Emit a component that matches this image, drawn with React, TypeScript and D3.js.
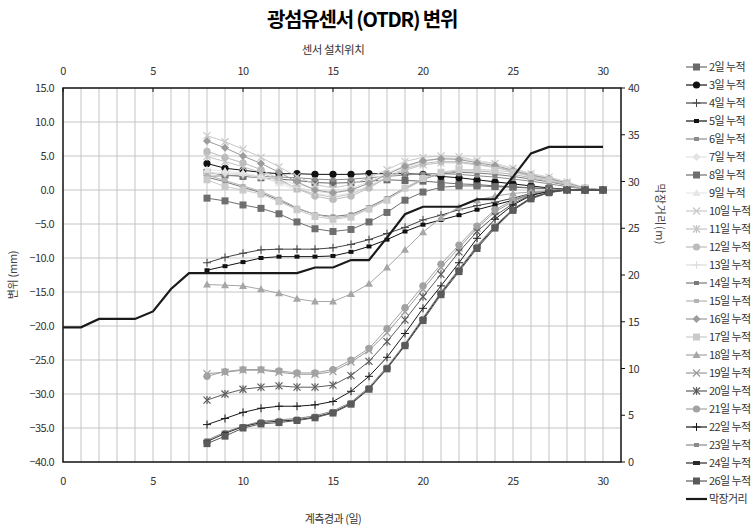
import React from "react";
import * as d3 from "d3";

const days = [8, 9, 10, 11, 12, 13, 14, 15, 16, 17, 18, 19, 20, 21, 22, 23, 24, 25, 26, 27, 28, 29, 30];

const d2 = [2.6, 2.2, 2.0, 1.8, 1.6, 1.4, 1.1, 1.0, 1.1, 1.3, 1.5, 1.4, 1.3, 1.1, 0.9, 0.8, 0.6, 0.5, 0.3, 0.2, 0.1, 0.0, 0];
const d3v = [3.9, 3.2, 2.9, 2.6, 2.4, 2.4, 2.3, 2.3, 2.3, 2.4, 2.4, 2.4, 2.3, 2.0, 1.8, 1.5, 1.2, 0.9, 0.6, 0.3, 0.1, 0.0, 0];
const d4 = [-10.7, -9.9, -9.3, -8.8, -8.7, -8.7, -8.7, -8.5, -8.0, -7.3, -6.4, -5.5, -4.4, -3.7, -2.9, -2.3, -1.8, -1.2, -0.5, -0.1, 0, 0, 0];
const d5 = [-11.8, -11.2, -10.6, -10.0, -9.8, -9.8, -9.8, -9.7, -9.1, -8.3, -7.3, -6.1, -5.1, -4.4, -3.7, -2.9, -2.2, -1.5, -0.6, -0.15, 0, 0, 0];
const d6 = [2.0, 2.1, 2.1, 2.0, 1.9, 1.8, 1.6, 1.5, 1.6, 1.8, 2.0, 2.2, 2.4, 2.4, 2.3, 2.1, 1.9, 1.6, 1.3, 0.9, 0.5, 0.1, 0];
const d7 = [2.3, 2.5, 2.4, 2.0, 1.5, 0.8, 0.2, -0.2, 0.3, 1.2, 2.5, 3.6, 4.3, 4.6, 4.6, 4.2, 3.8, 3.1, 2.3, 1.7, 1.0, 0.3, 0];
const d8 = [-1.2, -1.6, -2.2, -2.7, -3.5, -4.7, -5.7, -6.1, -5.8, -4.7, -3.3, -1.5, -0.3, 0.4, 0.6, 0.6, 0.5, 0.4, 0.3, 0.2, 0.1, 0.0, 0];
const d9 = [3.0, 2.8, 2.5, 2.0, 1.0, 0.0, -0.5, -0.9, -0.4, 0.6, 2.0, 3.3, 4.2, 4.6, 4.6, 4.2, 3.8, 3.1, 2.3, 1.8, 1.1, 0.3, 0];
const d10 = [8.0, 7.1, 6.0, 4.8, 3.4, 2.0, 0.8, 0.3, 0.8, 1.8, 3.0, 4.2, 4.8, 5.0, 4.9, 4.3, 3.9, 3.2, 2.4, 1.9, 1.2, 0.3, 0];
const d11 = [4.9, 4.2, 3.4, 2.6, 1.4, 0.2, -0.6, -1.1, -0.6, 0.5, 1.8, 2.9, 3.7, 4.0, 4.0, 3.7, 3.3, 2.7, 2.0, 1.5, 0.9, 0.2, 0];
const d12 = [5.7, 4.8, 4.0, 3.0, 1.6, 0.2, -0.9, -1.4, -0.9, 0.3, 1.8, 3.1, 3.9, 4.2, 4.2, 3.8, 3.4, 2.8, 2.1, 1.6, 1.0, 0.3, 0];
const d13 = [2.6, 2.4, 2.2, 1.8, 1.2, 0.4, -0.2, -0.5, 0.0, 1.0, 2.3, 3.5, 4.3, 4.7, 4.7, 4.3, 3.9, 3.2, 2.4, 1.8, 1.1, 0.3, 0];
const d14 = [1.9, 1.2, 0.4, -0.4, -1.5, -2.7, -3.6, -3.9, -3.6, -2.5, -1.2, 0.3, 1.6, 2.4, 2.6, 2.5, 2.3, 2.0, 1.6, 1.2, 0.7, 0.2, 0];
const d15 = [2.2, 1.4, 0.6, -0.2, -1.3, -2.6, -3.6, -4.1, -3.8, -2.7, -1.4, 0.1, 1.5, 2.5, 2.8, 2.8, 2.6, 2.3, 1.8, 1.3, 0.8, 0.2, 0];
const d16 = [7.2, 6.2, 5.0, 3.9, 2.6, 1.2, 0.0, -0.4, 0.0, 1.0, 2.3, 3.5, 4.3, 4.6, 4.5, 4.0, 3.6, 2.9, 2.2, 1.7, 1.0, 0.3, 0];
const d17 = [1.5, 0.5, 0.0, -0.6, -1.7, -2.9, -3.9, -4.3, -4.0, -2.8, -1.5, 0.3, 1.7, 2.6, 3.0, 3.0, 2.9, 2.6, 2.0, 1.5, 0.9, 0.2, 0];
const d18 = [-13.9, -14.0, -14.1, -14.6, -15.2, -16.0, -16.4, -16.4, -15.3, -13.8, -11.4, -8.8, -6.2, -4.1, -2.5, -1.5, -0.9, -0.5, -0.3, -0.1, 0, 0, 0];
const d19 = [-27.0, -26.8, -26.5, -26.5, -26.8, -27.1, -27.1, -26.7, -25.3, -23.6, -21.0, -17.9, -14.6, -11.4, -8.5, -5.6, -3.2, -1.7, -0.6, -0.15, 0, 0, 0];
const d20 = [-30.9, -30.0, -29.3, -29.0, -28.8, -29.0, -29.0, -28.7, -27.3, -25.2, -22.3, -19.1, -15.7, -12.4, -9.1, -6.1, -3.8, -2.0, -0.7, -0.2, 0, 0, 0];
const d21 = [-27.4, -26.7, -26.4, -26.4, -26.6, -26.9, -26.9, -26.4, -25.0, -23.3, -20.4, -17.3, -14.1, -10.9, -8.1, -5.3, -2.9, -1.5, -0.5, -0.15, 0, 0, 0];
const d22 = [-34.5, -33.6, -32.7, -32.1, -31.8, -31.8, -31.6, -31.1, -29.6, -27.4, -24.6, -21.1, -17.4, -14.1, -10.7, -7.1, -4.3, -2.2, -0.8, -0.2, 0, 0, 0];
const d23 = [-36.8, -35.6, -34.7, -34.0, -33.8, -33.6, -33.2, -32.5, -31.2, -29.0, -26.0, -22.6, -18.8, -15.0, -11.6, -8.2, -5.2, -2.8, -1.1, -0.3, 0, 0, 0];
const d24 = [-37.0, -35.8, -34.8, -34.2, -34.0, -33.8, -33.4, -32.7, -31.4, -29.2, -26.2, -22.8, -19.0, -15.2, -11.8, -8.4, -5.4, -2.9, -1.2, -0.35, 0, 0, 0];
const d26 = [-37.3, -36.2, -35.0, -34.4, -34.2, -33.9, -33.5, -32.8, -31.5, -29.3, -26.3, -22.9, -19.2, -15.4, -12.0, -8.6, -5.6, -3.0, -1.3, -0.4, 0, 0, 0];

const faceX = [0, 1, 2, 3, 4, 5, 6, 7, 8, 9, 10, 11, 12, 13, 14, 15, 16, 17, 18, 19, 20, 21, 22, 23, 24, 25, 26, 27, 28, 29, 30];
const faceDist = [14.4, 14.4, 15.3, 15.3, 15.3, 16.1, 18.5, 20.2, 20.2, 20.2, 20.2, 20.2, 20.2, 20.2, 20.8, 20.8, 21.6, 21.6, 24.0, 26.5, 27.3, 27.3, 27.3, 28.1, 28.1, 30.5, 33.0, 33.7, 33.7, 33.7, 33.7];

const seriesNames = ["2일 누적", "3일 누적", "4일 누적", "5일 누적", "6일 누적", "7일 누적", "8일 누적", "9일 누적", "10일 누적", "11일 누적", "12일 누적", "13일 누적", "14일 누적", "15일 누적", "16일 누적", "17일 누적", "18일 누적", "19일 누적", "20일 누적", "21일 누적", "22일 누적", "23일 누적", "24일 누적", "26일 누적"];
const seriesData = [d2, d3v, d4, d5, d6, d7, d8, d9, d10, d11, d12, d13, d14, d15, d16, d17, d18, d19, d20, d21, d22, d23, d24, d26];
const faceName = "막장거리";

const leftTicks = [15, 10, 5, 0, -5, -10, -15, -20, -25, -30, -35, -40];
const rightTicks = [0, 5, 10, 15, 20, 25, 30, 35, 40];
const xTicks = [0, 5, 10, 15, 20, 25, 30];

// styles (colour, marker)
const seriesColors = ["#6a6a6a", "#111111", "#444444", "#111111", "#8c8c8c", "#e2e2e2", "#6e6e6e", "#e6e6e6", "#c8c8c8", "#c4c4c4", "#bcbcbc", "#dcdcdc", "#7a7a7a", "#b4b4b4", "#9c9c9c", "#cacaca", "#a6a6a6", "#9a9a9a", "#5e5e5e", "#a2a2a2", "#1a1a1a", "#8a8a8a", "#2a2a2a", "#5a5a5a"];
const seriesMarkers = ["square", "circle", "plus", "dash", "dash", "diamond", "square", "triangle", "x", "asterisk", "circle", "plus", "dash", "dash", "diamond", "square", "triangle", "x", "asterisk", "circle", "plus", "dash", "bar", "square"];

const FONT = "'Noto Sans CJK KR', 'Noto Sans', sans-serif";

function Marker({ type, x, y, c }: { type: string; x: number; y: number; c: string }) {
  switch (type) {
    case "square":
      return <rect x={x - 3.5} y={y - 3.5} width={7} height={7} fill={c} />;
    case "circle":
      return <circle cx={x} cy={y} r={3.6} fill={c} />;
    case "plus":
      return (
        <g stroke={c} strokeWidth={1}>
          <line x1={x - 4} y1={y} x2={x + 4} y2={y} />
          <line x1={x} y1={y - 4} x2={x} y2={y + 4} />
        </g>
      );
    case "dash":
      return <rect x={x - 2.5} y={y - 2} width={5} height={4} fill={c} />;
    case "bar":
      return <rect x={x - 3.5} y={y - 2} width={7} height={4} fill={c} />;
    case "diamond":
      return <path d={`M${x},${y - 4}L${x + 4},${y}L${x},${y + 4}L${x - 4},${y}Z`} fill={c} />;
    case "triangle":
      return <path d={`M${x},${y - 4}L${x + 4},${y + 3}L${x - 4},${y + 3}Z`} fill={c} />;
    case "x":
      return (
        <g stroke={c} strokeWidth={1.2}>
          <line x1={x - 3.5} y1={y - 3.5} x2={x + 3.5} y2={y + 3.5} />
          <line x1={x - 3.5} y1={y + 3.5} x2={x + 3.5} y2={y - 3.5} />
        </g>
      );
    case "asterisk":
      return (
        <g stroke={c} strokeWidth={1.2}>
          <line x1={x - 3.5} y1={y - 3.5} x2={x + 3.5} y2={y + 3.5} />
          <line x1={x - 3.5} y1={y + 3.5} x2={x + 3.5} y2={y - 3.5} />
          <line x1={x} y1={y - 4} x2={x} y2={y + 4} />
        </g>
      );
    default:
      return null;
  }
}

export default function App() {
  const W = 754;
  const H = 527;
  const left = 63;
  const right = 621;
  const top = 88;
  const bottom = 462;

  const x = d3.scaleLinear().domain([0, 31]).range([left, right]);
  const y = d3.scaleLinear().domain([-40, 15]).range([bottom, top]);
  const y2 = d3.scaleLinear().domain([0, 40]).range([bottom, top]);

  const line = d3
    .line<number>()
    .x((_, i) => x(days[i]))
    .y((d) => y(d));
  const faceLine = d3
    .line<number>()
    .x((_, i) => x(faceX[i]))
    .y((d) => y2(d));

  const vGrid = d3.range(1, 31);
  const hGrid = leftTicks.slice(1, -1);

  const legendTop = 67;
  const legendStep = 18;

  return (
    <svg
      width={W}
      height={H}
      style={{ position: "absolute", left: 0, top: 0, background: "#fff" }}
      fontFamily={FONT}
    >
      <rect width={W} height={H} fill="#fff" />
      <text x={362} y={27} textAnchor="middle" fontSize={20} fontWeight={700} letterSpacing={-1.2} fill="#000">
        광섬유센서 (OTDR) 변위
      </text>
      <text x={x(15)} y={54} textAnchor="middle" fontSize={11.5} fill="#333" letterSpacing={-0.5}>
        센서 설치위치
      </text>

      {/* grid */}
      {vGrid.map((v) => (
        <line key={"vg" + v} x1={x(v)} x2={x(v)} y1={top} y2={bottom} stroke="#c4c4c4" strokeWidth={1} />
      ))}
      {hGrid.map((v) => (
        <line key={"hg" + v} x1={left} x2={right} y1={y(v)} y2={y(v)} stroke="#c4c4c4" strokeWidth={1} />
      ))}

      {/* frame */}
      <rect x={left} y={top} width={right - left} height={bottom - top} fill="none" stroke="#111" strokeWidth={1.5} />

      {/* top & bottom ticks */}
      {xTicks.map((t) => (
        <g key={"xt" + t}>
          <line x1={x(t)} x2={x(t)} y1={top} y2={top + 4} stroke="#111" />
          <text x={x(t)} y={75} textAnchor="middle" fontSize={11} fill="#333" letterSpacing={-0.5}>
            {t}
          </text>
          <text x={x(t)} y={485} textAnchor="middle" fontSize={11} fill="#333" letterSpacing={-0.5}>
            {t}
          </text>
        </g>
      ))}

      {/* left ticks */}
      {leftTicks.map((t) => (
        <text key={"lt" + t} x={54} y={y(t) + 4} textAnchor="end" fontSize={11} fill="#333" letterSpacing={-0.6}>
          {t < 0 ? "−" + Math.abs(t).toFixed(1) : t.toFixed(1)}
        </text>
      ))}
      <text
        transform={`translate(17,${y(-12.5)}) rotate(-90)`}
        textAnchor="middle"
        fontSize={11}
        fill="#444"
        letterSpacing={-0.3}
      >
        변위 (mm)
      </text>

      {/* right ticks */}
      {rightTicks.map((t) => (
        <g key={"rt" + t}>
          <line x1={right} x2={right + 4} y1={y2(t)} y2={y2(t)} stroke="#111" />
          <text x={628} y={y2(t) + 4} fontSize={11} fill="#333" letterSpacing={-0.5}>
            {t}
          </text>
        </g>
      ))}
      <text
        transform={`translate(656,${y2(26.5)}) rotate(90)`}
        textAnchor="middle"
        fontSize={11}
        fill="#444"
        letterSpacing={0.5}
      >
        막장거리(m)
      </text>

      <text x={x(15)} y={523} textAnchor="middle" fontSize={11} fill="#333" letterSpacing={-0.5}>
        계측경과 (일)
      </text>

      {/* series */}
      {seriesData.map((s, i) => (
        <g key={"s" + i}>
          <path d={line(s) || ""} fill="none" stroke={seriesColors[i]} strokeWidth={1} />
          {s.map((v, j) => (
            <Marker key={j} type={seriesMarkers[i]} x={x(days[j])} y={y(v)} c={seriesColors[i]} />
          ))}
        </g>
      ))}

      <path d={faceLine(faceDist) || ""} fill="none" stroke="#1a1a1a" strokeWidth={2.2} />

      {/* legend */}
      {seriesNames.map((n, i) => {
        const ly = legendTop + i * legendStep;
        return (
          <g key={"lg" + i}>
            <line x1={686} x2={707} y1={ly} y2={ly} stroke={seriesColors[i]} strokeWidth={1.2} />
            <Marker type={seriesMarkers[i]} x={696.5} y={ly} c={seriesColors[i]} />
            <text x={709} y={ly + 4} fontSize={11} fill="#333" letterSpacing={-0.6}>
              {n}
            </text>
          </g>
        );
      })}
      <g>
        <line
          x1={686}
          x2={707}
          y1={legendTop + 24 * legendStep}
          y2={legendTop + 24 * legendStep}
          stroke="#1a1a1a"
          strokeWidth={2.2}
        />
        <text x={709} y={legendTop + 24 * legendStep + 4} fontSize={11} fill="#333" letterSpacing={-0.6}>
          {faceName}
        </text>
      </g>
    </svg>
  );
}
